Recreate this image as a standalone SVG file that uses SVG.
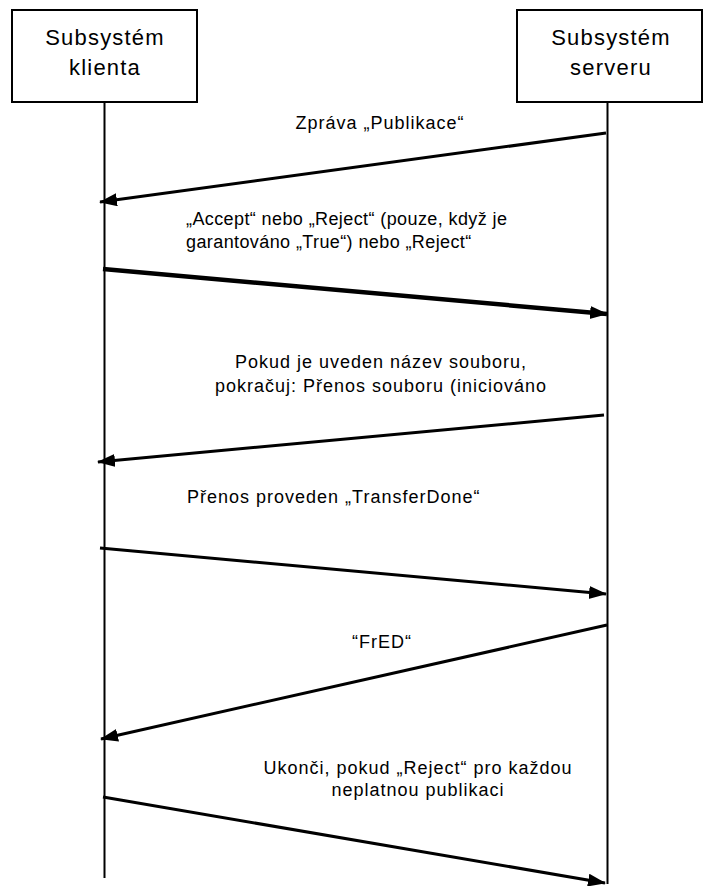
<svg xmlns="http://www.w3.org/2000/svg" width="711" height="886" viewBox="0 0 711 886">
<style>
.box{fill:#fff;stroke:#000;stroke-width:2}
.life{stroke:#000;stroke-width:2;fill:none}
.msg{stroke:#000;stroke-width:3;fill:none;marker-end:url(#ah)}
.thick{stroke-width:4.5}
.hd{font-family:"Liberation Sans",Arial,sans-serif;font-size:22px;letter-spacing:1.2px;text-anchor:middle;fill:#000}
.lb{font-family:"Liberation Sans",Arial,sans-serif;font-size:18px;letter-spacing:1px;fill:#000}
.tight{letter-spacing:0.4px}
.c{text-anchor:middle}
</style>
<defs>
<marker id="ah" markerUnits="userSpaceOnUse" markerWidth="20" markerHeight="14" refX="17" refY="6.5" orient="auto">
<path d="M0,0 L18,6.5 L0,13 z" fill="#000"/>
</marker>
</defs>
<g id="client">
<rect class="box" x="12" y="10" width="185" height="92"/>
<text class="hd" x="105" y="45">Subsystém</text>
<text class="hd" x="105" y="75">klienta</text>
<line class="life" x1="104.5" y1="102" x2="104.5" y2="878"/>
</g>
<g id="server">
<rect class="box" x="517" y="10" width="185" height="92"/>
<text class="hd" x="611" y="45">Subsystém</text>
<text class="hd" x="611" y="75">serveru</text>
<line class="life" x1="607.5" y1="102" x2="607.5" y2="884"/>
</g>
<g id="connectors">
<line class="msg" x1="606" y1="133" x2="100" y2="202"/>
<line class="msg thick" x1="103" y1="269" x2="607" y2="314"/>
<line class="msg" x1="604" y1="415" x2="98" y2="462"/>
<line class="msg" x1="100" y1="548" x2="606" y2="594"/>
<line class="msg" x1="607" y1="625" x2="101" y2="739"/>
<line class="msg" x1="103" y1="797" x2="605" y2="883"/>
</g>
<g id="labels">
<text class="lb c" x="380" y="129">Zpráva „Publikace“</text>
<text class="lb tight" x="186" y="225">„Accept“ nebo „Reject“ (pouze, když je</text>
<text class="lb tight" x="186" y="248">garantováno „True“) nebo „Reject“</text>
<text class="lb c" x="381" y="368">Pokud je uveden název souboru,</text>
<text class="lb c" x="381" y="392">pokračuj: Přenos souboru (iniciováno</text>
<text class="lb" x="187" y="503">Přenos proveden „TransferDone“</text>
<text class="lb c" x="382" y="648">“FrED“</text>
<text class="lb c" x="418" y="774">Ukonči, pokud „Reject“ pro každou</text>
<text class="lb c" x="418" y="796">neplatnou publikaci</text>
</g>
</svg>
